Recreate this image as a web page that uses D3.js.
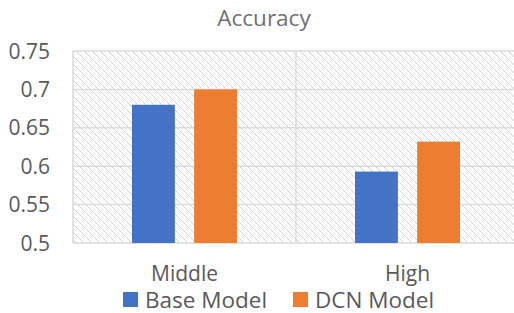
<!DOCTYPE html>
<html>
<head>
<meta charset="utf-8">
<script src="https://cdn.jsdelivr.net/npm/d3@7"></script>
<style>
  body { margin: 0; background: #fff; }
  svg { display: block; font-family: "Open Sans", sans-serif; }
</style>
</head>
<body>
<div id="chart"></div>
<script>
const categories = ["Middle", "High"]
const series = ["Base Model", "DCN Model"]
const baseValues = [0.68, 0.593]
const dcnValues = [0.70, 0.632]
const yTicks = [0.5, 0.55, 0.6, 0.65, 0.7, 0.75]

const colors = { "Base Model": "#4472c4", "DCN Model": "#ed7d31" }
const width = 514, height = 313
const margin = { left: 73, top: 51, right: -5, bottom: 70 }

const rows = categories.map((c, i) => ({ category: c, values: [baseValues[i], dcnValues[i]] }))

const svg = d3.select("#chart").append("svg")
  .attr("width", width)
  .attr("height", height)

// hatch fill of the plot area, pixel diagonal like excel's pattern
const pat = svg.append("defs").append("pattern")
  .attr("id", "hatch")
  .attr("patternUnits", "userSpaceOnUse")
  .attr("width", 8).attr("height", 8)
  .attr("x", 1).attr("y", 0)
pat.selectAll("rect")
  .data(d3.range(8))
  .enter().append("rect")
    .attr("x", d => d).attr("y", d => d)
    .attr("width", 1).attr("height", 1)
    .attr("fill", "#cfcfcf")
    .attr("shape-rendering", "crispEdges")

const x0 = d3.scaleBand()
  .domain(categories)
  .range([margin.left, width - margin.right])

const x1 = d3.scaleBand()
  .domain(series)
  .range([0, x0.bandwidth()])
  .paddingInner(0.31)
  .paddingOuter(0.95)

const y = d3.scaleLinear()
  .domain([0.5, 0.75])
  .range([height - margin.bottom, margin.top])

svg.append("rect")
  .attr("x", margin.left).attr("y", margin.top)
  .attr("width", width - margin.right - margin.left)
  .attr("height", y(0.5) - margin.top)
  .attr("fill", "url(#hatch)")

// horizontal gridlines
svg.append("g")
  .selectAll("line")
  .data(yTicks)
  .enter().append("line")
    .attr("x1", margin.left).attr("x2", width - margin.right)
    .attr("y1", d => y(d)).attr("y2", d => y(d))
    .attr("stroke", "#d9d9d9")
    .attr("stroke-width", 1.5)

// vertical category dividers
const bounds = categories.map(c => x0(c)).concat([x0(categories[categories.length - 1]) + x0.bandwidth()])
svg.append("g")
  .selectAll("line")
  .data(bounds)
  .enter().append("line")
    .attr("x1", d => d).attr("x2", d => d)
    .attr("y1", margin.top).attr("y2", y(0.5))
    .attr("stroke", "#d9d9d9")
    .attr("stroke-width", 1.5)

// bars
svg.append("g")
  .selectAll("g")
  .data(rows)
  .enter().append("g")
    .attr("transform", d => `translate(${x0(d.category)},0)`)
  .selectAll("rect")
  .data(d => d.values.map((v, i) => ({ key: series[i], value: v })))
  .enter().append("rect")
    .attr("x", d => x1(d.key))
    .attr("width", x1.bandwidth())
    .attr("y", d => y(d.value))
    .attr("height", d => y(0.5) - y(d.value))
    .attr("fill", d => colors[d.key])

// y tick labels
svg.append("g")
  .selectAll("text")
  .data(yTicks)
  .enter().append("text")
    .attr("x", 50)
    .attr("y", d => y(d))
    .attr("dy", "0.36em")
    .attr("text-anchor", "end")
    .attr("font-size", 21)
    .attr("fill", "#595959")
    .text(d => d3.format("~g")(d))

// category labels
svg.append("g")
  .selectAll("text")
  .data(categories)
  .enter().append("text")
    .attr("x", d => x0(d) + x0.bandwidth() / 2)
    .attr("y", 281)
    .attr("text-anchor", "middle")
    .attr("font-size", 21)
    .attr("fill", "#595959")
    .text(d => d)

// title
svg.append("text")
  .attr("x", 264)
  .attr("y", 26)
  .attr("text-anchor", "middle")
  .attr("font-size", 22.5)
  .attr("fill", "#707070")
  .text("Accuracy")

// legend
const legendX = [123, 293]
const legend = svg.append("g")
  .selectAll("g")
  .data(series)
  .enter().append("g")
    .attr("transform", (d, i) => `translate(${legendX[i]},292)`)
legend.append("rect")
  .attr("width", 15).attr("height", 15)
  .attr("fill", d => colors[d])
legend.append("text")
  .attr("x", 22)
  .attr("y", 15.5)
  .attr("font-size", 22.5)
  .attr("fill", "#595959")
  .text(d => d)
</script>
</body>
</html>
